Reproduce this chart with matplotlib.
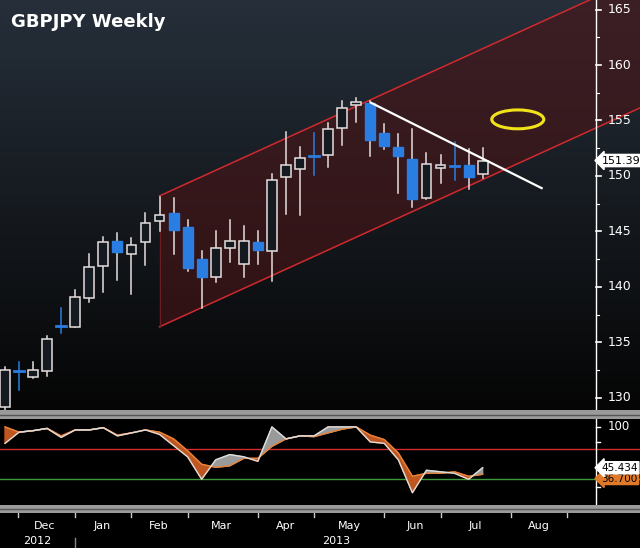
import matplotlib
matplotlib.use("Agg")
import matplotlib.pyplot as plt
import numpy as np
from matplotlib.patches import Polygon, Ellipse, Rectangle

# ── Data ─────────────────────────────────────────────────────────────────────
opens  = [129.2, 132.4, 131.9, 132.4, 136.5, 136.4, 139.0, 141.9, 144.1, 143.0,
          144.0, 145.9, 146.7, 145.4, 142.5, 140.9, 143.5, 142.1, 144.0, 143.2,
          149.9, 150.6, 151.8, 151.9, 154.3, 156.4, 156.6, 153.9, 152.6, 151.5,
          148.0, 150.7, 150.9, 151.0, 150.2]
closes = [132.5, 132.3, 132.5, 135.3, 136.4, 139.1, 141.8, 144.0, 143.1, 143.8,
          145.8, 146.5, 145.1, 141.7, 140.9, 143.5, 144.1, 144.1, 143.3, 149.6,
          151.0, 151.6, 151.7, 154.2, 156.1, 156.7, 153.2, 152.7, 151.8, 147.9,
          151.1, 151.0, 150.8, 149.9, 151.39]
highs  = [132.8, 133.2, 133.2, 135.6, 138.1, 139.7, 143.0, 144.5, 144.9, 144.4,
          146.7, 148.1, 148.0, 146.0, 143.2, 145.0, 146.0, 145.5, 145.0, 150.2,
          154.0, 152.6, 153.9, 154.8, 156.8, 157.0, 156.8, 154.7, 153.8, 154.2,
          152.1, 151.9, 153.1, 152.4, 152.5]
lows   = [128.8, 130.7, 131.8, 132.0, 135.8, 136.4, 138.6, 139.5, 140.6, 139.4,
          142.0, 145.0, 143.0, 141.4, 138.1, 140.4, 142.2, 140.9, 142.1, 140.5,
          146.6, 146.5, 150.1, 150.8, 152.8, 154.9, 151.8, 152.4, 148.5, 147.2,
          147.9, 149.4, 149.6, 148.8, 149.8]
stoch_k = [78, 93, 95, 98, 86, 96, 96, 99, 88, 92, 96, 90, 75, 60, 30, 56, 63, 60,
           54, 100, 84, 88, 88, 100, 100, 100, 80, 78, 56, 12, 42, 40, 38, 30, 45.434]
stoch_d = [100, 93, 95, 98, 88, 96, 96, 99, 89, 92, 96, 93, 84, 68, 50, 46, 48, 58,
           58, 74, 84, 88, 87, 92, 97, 100, 89, 83, 65, 34, 38, 38, 40, 34, 36.7]
months = ["Dec", "Jan", "Feb", "Mar", "Apr", "May", "Jun", "Jul", "Aug"]
month_pos = [2.8, 6.9, 10.95, 15.4, 20.0, 24.5, 29.2, 33.5, 38.0]
price_ticks = [130, 135, 140, 145, 150, 155, 160, 165]
osc_ticks = [100]

BLUE = "#2a7de1"
WHITE = "#e6dede"
RED = "#d02a2e"

W, H = 640, 548
fig = plt.figure(figsize=(W / 100, H / 100), dpi=100)
fig.patch.set_facecolor("black")

def rect(x0, y0, x1, y1):
    return [x0 / W, 1 - y1 / H, (x1 - x0) / W, (y1 - y0) / H]

XL = (-0.356, 45.2)

# background gradient
bg = fig.add_axes(rect(0, 0, 640, 410))
grad = np.linspace(0, 1, 256)[:, None]
top = np.array([0x26, 0x2f, 0x3a]) / 255
bot = np.array([0.02, 0.02, 0.02])
img = top[None, None, :] * (1 - grad[..., None]) + bot[None, None, :] * grad[..., None]
bg.imshow(np.repeat(img, 2, axis=1), aspect="auto", extent=(0, 1, 0, 1))
bg.axis("off")

ax = fig.add_axes(rect(0, 0, 640, 410))
ax.patch.set_alpha(0)
ax.set_xlim(*XL)
ax.set_ylim(128.9, 165.86)
ax.axis("off")

# channel
k0, k1 = 11.0, 46.0
slope = 0.577
up0, lo0 = 148.2, 136.4
chan = Polygon([(k0, lo0), (k0, up0), (k1, up0 + slope * (k1 - k0)),
                (k1, lo0 + slope * (k1 - k0))], closed=True,
               fc="#4a1517", alpha=0.6, ec="none", zorder=1)
ax.add_patch(chan)
ax.plot([k0, k1], [up0, up0 + slope * (k1 - k0)], color=RED, lw=1.1, zorder=2)
ax.plot([k0, k1], [lo0, lo0 + slope * (k1 - k0)], color=RED, lw=1.1, zorder=2)
ax.plot([k0, k0], [lo0, up0], color="#6a1e21", lw=0.8, zorder=2)

# candles
bw = 0.7
for i, (o, c, h, l) in enumerate(zip(opens, closes, highs, lows)):
    down = c < o
    col = BLUE if down else WHITE
    ax.plot([i, i], [l, h], color=col if abs(c - o) < 0.2 else WHITE, lw=1.1, zorder=3)
    if abs(c - o) < 0.2 and down:
        ax.plot([i - bw / 2, i + bw / 2], [o, o], color=BLUE, lw=2, zorder=4)
    elif down:
        ax.add_patch(Rectangle((i - bw / 2, c), bw, o - c, fc=BLUE, ec=BLUE, zorder=4))
    else:
        ax.add_patch(Rectangle((i - bw / 2, o), bw, max(c - o, 0.25), fc="#141a20",
                               ec=WHITE, lw=1.1, zorder=4))

# trend line and ellipse
ax.plot([26.05, 38.2], [156.6, 148.9], color="white", lw=1.6, zorder=5)
ax.add_patch(Ellipse((36.5, 155.1), 3.7, 1.7, fc="none", ec="#f2e21a", lw=2.2, zorder=5))

# right axis
ax.plot([42.1, 42.1], [128.9, 165.86], color="white", lw=1, zorder=6)
for t in price_ticks:
    ax.text(42.9, t, str(t), color="white", fontsize=9, va="center", ha="left", zorder=6)
    ax.plot([42.1, 42.45], [t, t], color="white", lw=1.2, zorder=6)
    ax.plot([42.1, 42.3], [t + 2.5, t + 2.5], color="white", lw=0.8, zorder=6)
ax.text(42.45, closes[-1], f"{closes[-1]:.2f}", color="black", fontsize=8, va="center",
        ha="left", zorder=7,
        bbox=dict(boxstyle="larrow,pad=0.1", fc="white", ec="white"))
ax.text(0.4, 163.9, "GBPJPY Weekly", color="white", fontsize=13, fontweight="bold",
        ha="left", va="center")

# separators
for y0, y1 in [(410, 419), (505, 513)]:
    sep = fig.add_axes(rect(0, y0, 640, y1))
    sep.set_facecolor("#9a9a9a")
    sep.set_xticks([]); sep.set_yticks([])
    for s in sep.spines.values():
        s.set_visible(False)
    sep.axhline(0.5, color="#555555", lw=1)

# oscillator
ox = fig.add_axes(rect(0, 419, 640, 505))
ox.set_facecolor("black")
ox.set_xlim(*XL)
ox.set_ylim(-4.4, 110.6)
ox.axis("off")
kk = np.arange(len(stoch_k))
K = np.array(stoch_k); D = np.array(stoch_d)
ox.fill_between(kk, K, D, where=K >= D, interpolate=True, color="#9a9a9a", zorder=2)
ox.fill_between(kk, K, D, where=K < D, interpolate=True, color="#c0561f", zorder=2)
ox.plot(kk, D, color="#e8843a", lw=1, zorder=3)
ox.plot(kk, K, color="#dddddd", lw=1, zorder=3)
ox.axhline(70, color=RED, lw=1, zorder=1)
ox.axhline(30, color="#3c9a3c", lw=1, zorder=1)
ox.plot([42.1, 42.1], [-4.4, 110.6], color="white", lw=1)
for t in osc_ticks:
    ox.text(42.9, t, str(t), color="white", fontsize=8.5, va="center", ha="left")
for t in [100, 80, 20]:
    ox.plot([42.1, 42.35], [t, t], color="white", lw=1)
ox.text(42.45, 31, f"{stoch_d[-1]:.3f}", color="black", fontsize=7.5, va="center",
        ha="left", zorder=6, bbox=dict(boxstyle="larrow,pad=0.1", fc="#e07a2a", ec="#e07a2a"))
ox.text(42.45, stoch_k[-1], f"{stoch_k[-1]:.3f}", color="black", fontsize=7.5, va="center",
        ha="left", zorder=7, bbox=dict(boxstyle="larrow,pad=0.1", fc="white", ec="white"))

# date axis
da = fig.add_axes(rect(0, 513, 640, 548))
da.set_facecolor("black")
da.set_xlim(*XL)
da.set_ylim(0, 1)
da.axis("off")
for m, p in zip(months, month_pos):
    da.text(p, 0.62, m, color="white", fontsize=8, ha="center", va="center")
for p in [0.93, 4.98, 8.97, 13.02, 18.0, 22.0, 27.0, 31.05, 36.0, 40.0]:
    da.plot([p, p], [0.88, 1.0], color="#cccccc", lw=1)
da.plot([4.98, 4.98], [0.0, 0.3], color="#888888", lw=1)
da.text(2.3, 0.2, "2012", color="white", fontsize=8, ha="center", va="center")
da.text(23.55, 0.2, "2013", color="white", fontsize=8, ha="center", va="center")

fig.savefig("out.png", dpi=100, facecolor="black")
